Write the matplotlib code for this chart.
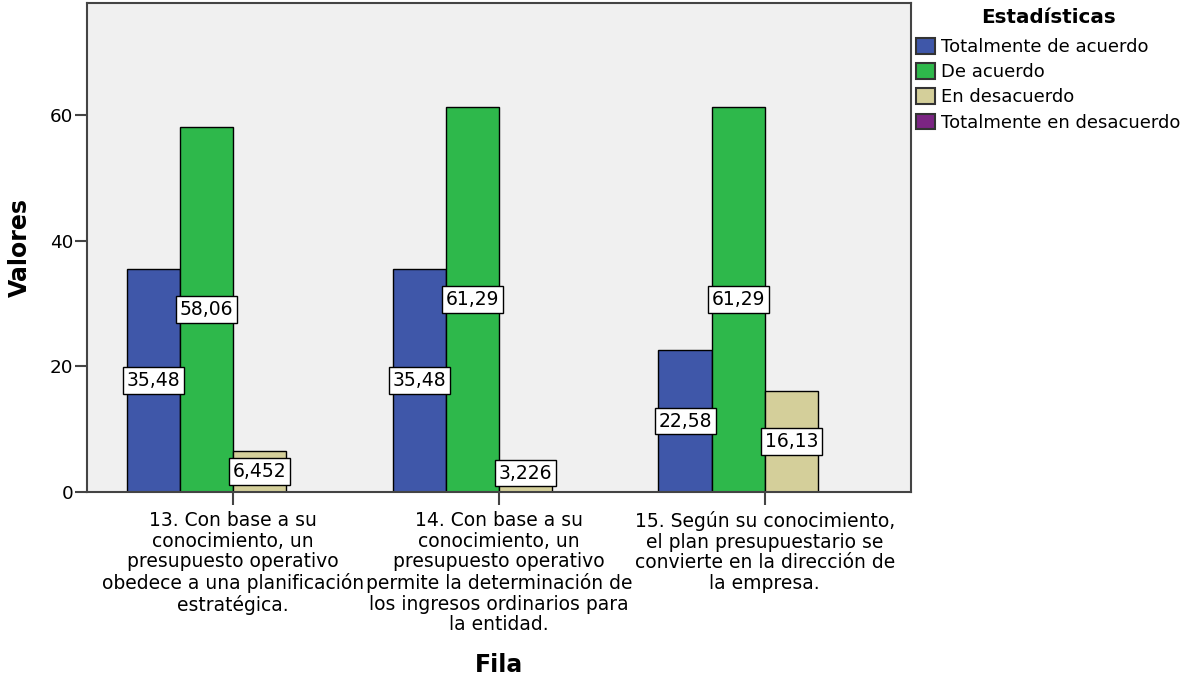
import matplotlib
matplotlib.use("Agg")
import matplotlib.pyplot as plt
import numpy as np

plt.rcParams['font.family'] = ['DejaVu Sans']

categories = [
    "13. Con base a su\nconocimiento, un\npresupuesto operativo\nobedece a una planificación\nestratégica.",
    "14. Con base a su\nconocimiento, un\npresupuesto operativo\npermite la determinación de\nlos ingresos ordinarios para\nla entidad.",
    "15. Según su conocimiento,\nel plan presupuestario se\nconvierte en la dirección de\nla empresa.",
]
series_names = ["Totalmente de acuerdo", "De acuerdo", "En desacuerdo", "Totalmente en desacuerdo"]
totalmente_de_acuerdo = [35.48, 35.48, 22.58]
de_acuerdo = [58.06, 61.29, 61.29]
en_desacuerdo = [6.452, 3.226, 16.13]
totalmente_en_desacuerdo = [0, 0, 0]
label_texts = [
    ["35,48", "35,48", "22,58"],
    ["58,06", "61,29", "61,29"],
    ["6,452", "3,226", "16,13"],
    [None, None, None],
]
colors = ["#3F57A9", "#2EB84B", "#D4CF9A", "#7B2583"]
yticks = [0, 20, 40, 60]

series = [totalmente_de_acuerdo, de_acuerdo, en_desacuerdo, totalmente_en_desacuerdo]

fig = plt.figure(figsize=(11.85, 6.8), dpi=100)
ax = fig.add_axes([87/1185, 1 - 492/680, (911-87)/1185, (492-3)/680])
ax.set_facecolor("#F0F0F0")

x = np.arange(len(categories))
w = 0.2
offsets = [-0.3, -0.1, 0.1, 0.3]
handles = []
for i, (vals, col, name) in enumerate(zip(series, colors, series_names)):
    b = ax.bar(x + offsets[i], vals, width=w, color=col, edgecolor="black", linewidth=1.0, label=name, zorder=2)
    handles.append(b)
    for j, v in enumerate(vals):
        t = label_texts[i][j]
        if t is None:
            continue
        ax.text(x[j] + offsets[i], max(v / 2, 3.0), t, ha="center", va="center", fontsize=13.5, zorder=5,
                bbox=dict(boxstyle="square,pad=0.2", facecolor="white", edgecolor="black", linewidth=1.0))

ax.set_xlim(-0.55, 2.55)
ax.set_ylim(0, 77.8)
ax.set_yticks(yticks)
ax.set_yticklabels([str(t) for t in yticks], fontsize=13.2)
ax.set_xticks(x)
ax.set_xticklabels(categories, fontsize=13.5, linespacing=1.1)
ax.tick_params(axis="y", direction="out", length=9, width=1.5, color="#444444", pad=1)
ax.tick_params(axis="x", direction="out", length=9, width=1.5, color="#444444", pad=5)
for s in ax.spines.values():
    s.set_color("#444444")
    s.set_linewidth(1.5)

ax.set_ylabel("Valores", fontsize=17, fontweight="bold", labelpad=13)
ax.set_xlabel("Fila", fontsize=17, fontweight="bold", labelpad=14)

leg = fig.legend(handles=handles, labels=series_names, title="Estadísticas", loc="upper left",
                 bbox_to_anchor=(912/1185, 1 - 4/680), frameon=False, fontsize=13,
                 handlelength=1.1, handleheight=0.95, handletextpad=0.33, labelspacing=0.4,
                 borderaxespad=0.0, borderpad=0.2)
leg.get_title().set_fontweight("bold")
leg.get_title().set_fontsize(14.3)
leg._legend_box.sep = 0.4 * 13 + 3.0
for p in leg.legend_handles:
    p.set_edgecolor("#333333")
    p.set_linewidth(1.5)

fig.savefig("out.png", dpi=100)
